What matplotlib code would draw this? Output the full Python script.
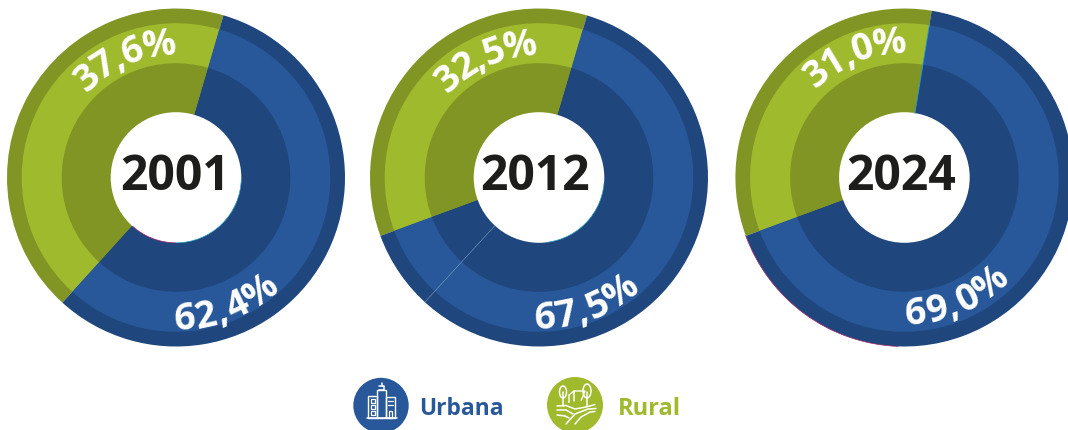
import numpy as np
import matplotlib
matplotlib.use("Agg")
import matplotlib.pyplot as plt
from matplotlib.font_manager import FontProperties
from matplotlib.patches import Arc, Circle, Rectangle, Ellipse, Polygon

W, H = 1068, 431

# data
years = ["2001", "2012", "2024"]
urban_labels = ["62,4%", "67,5%", "69,0%"]
rural_labels = ["37,6%", "32,5%", "31,0%"]
# share of the wheel as it is actually drawn (differs a little from the printed labels)
rural_drawn = [42.8, 35.2, 33.2]
urban_drawn = [57.2, 64.8, 66.8]
legend_names = ["Urbana", "Rural"]

# layout, in pixels of the picture
centers = [(176, 178.5), (539, 178.5), (904.4, 178.5)]
rural_start = [73.7, 73.5, 80.7]   # math angle of the upper split
year_x = [175, 535.5, 901]
rural_label_pos = [(23, 123.5), (24, 123.5), (22, 125.5)]    # deg ccw from top, baseline radius
urban_label_pos = [(21.5, 151.5), (20.5, 150.5), (23.5, 146.5)]    # deg ccw from bottom, baseline radius

BLUE = "#285899"
BLUE_DK = "#1f467d"
GREEN = "#9fba2d"
GREEN_DK = "#819524"
BLACK = "#1d1d1b"

plt.rcParams["font.family"] = ["Open Sans", "DejaVu Sans"]
bold = FontProperties(family="Open Sans", weight="bold", size=27)

fig = plt.figure(figsize=(W / 100, H / 100), dpi=100)
ax = fig.add_axes([0, 0, 1, 1])
renderer = fig.canvas.get_renderer()


def Y(y):
    return H - y


def arc_text(cx, cy, txt, mid_deg, r, top):
    # put the glyphs one by one along a circle, spaced at the middle of the glyph height
    ws = [renderer.get_text_width_height_descent(txt[:i], bold, False)[0] if i else 0
          for i in range(len(txt) + 1)]
    total = ws[-1]
    r_mid = r + 13 if top else r - 13
    for i, ch in enumerate(txt):
        off = ((ws[i] + ws[i + 1]) / 2 - total / 2) / r_mid
        if top:
            a = np.radians(90 + mid_deg) - off
            rot = np.degrees(a) - 90
        else:
            a = np.radians(270 + mid_deg) + off
            rot = np.degrees(a) + 90
        ax.text(cx + r * np.cos(a), cy + r * np.sin(a), ch, rotation=rot, rotation_mode="anchor",
                ha="center", va="baseline", color="white", fontproperties=bold)


for i in range(3):
    cx, cy = centers[i][0], Y(centers[i][1])
    vals = [rural_drawn[i], urban_drawn[i]]
    # full discs from the outside in, so no seams show between the rings
    for rad, cols in [(169, [GREEN_DK, BLUE_DK]),
                      (154.3, [GREEN, BLUE]),
                      (114.3, [GREEN_DK, BLUE_DK])]:
        ax.pie(vals, center=(cx, cy), radius=rad, startangle=rural_start[i], colors=cols,
               wedgeprops=dict(linewidth=0))
    ax.add_patch(Circle((cx, cy), 65.3, color="white", lw=0))
    ax.text(year_x[i], Y(177), years[i], ha="center", va="center", color=BLACK,
            fontsize=34.6, fontweight="bold")
    arc_text(cx, cy, rural_labels[i], rural_label_pos[i][0], rural_label_pos[i][1], True)
    arc_text(cx, cy, urban_labels[i], urban_label_pos[i][0], urban_label_pos[i][1], False)

# print artefacts of the original: fine lines on some edges
a = np.radians(270 - 42.5)
ax.plot([centers[1][0] + 65 * np.cos(a), centers[1][0] + 169 * np.cos(a)],
        [Y(178.5) + 65 * np.sin(a), Y(178.5) + 169 * np.sin(a)], color="#7f9cc0", lw=0.4)
a = np.radians(rural_start[2])
ax.plot([centers[2][0] + 65 * np.cos(a), centers[2][0] + 154 * np.cos(a)],
        [Y(178.5) + 65 * np.sin(a), Y(178.5) + 154 * np.sin(a)], color="#2a9fc9", lw=0.6)
for c, r, t1, t2, col in [(0, 65.3, 228, 270, "#a8246f"), (0, 65.3, 270, 358, "#2a9fc9"),
                          (1, 65.3, 278, 355, "#2a9fc9"), (2, 169, 200, 268, "#a8246f")]:
    ax.add_patch(Arc((centers[c][0], Y(178.5)), 2 * r, 2 * r, theta1=t1, theta2=t2,
                     color=col, lw=0.5))

# legend
ax.add_patch(Circle((381, Y(406.5)), 27.7, color=BLUE, lw=0))
ax.add_patch(Circle((575, Y(406)), 28, color=GREEN, lw=0))
ax.text(419.5, Y(415), legend_names[0], color=BLUE, fontsize=16.4, fontweight="bold", va="baseline")
ax.text(617.5, Y(415), legend_names[1], color=GREEN, fontsize=17, fontweight="bold", va="baseline")


def ln(xs, ys, lw=1.1):
    ax.plot(xs, [Y(v) for v in ys], color="white", lw=lw, solid_capstyle="round")


def box(x, y, w, h, lw=1.0):
    ax.add_patch(Rectangle((x, Y(y + h)), w, h, fill=False, ec="white", lw=lw))


# buildings icon
ln([367, 397], [419, 419])
box(368, 397, 9, 22)
box(377, 391, 9, 28)
box(386, 398, 8.5, 21)
ln([379, 384, 384, 379], [391, 391, 387, 387])
ln([381.5, 381.5], [387, 384])
for wy in [400, 406, 412]:
    box(370.5, wy, 4, 3.5, 0.9)
ln([388, 392.5], [402, 402], 0.9)
ln([388, 392.5], [406, 406], 0.9)
box(388.5, 412, 3.5, 7, 0.9)

# farm icon
ax.add_patch(Ellipse((563, Y(393)), 7, 12, fill=False, ec="white", lw=1.1))
ln([563, 563], [393, 407])
ax.add_patch(Ellipse((587, Y(392)), 8, 14, fill=False, ec="white", lw=1.1))
ln([587, 587], [393, 407])
ax.add_patch(Polygon([(569, Y(404)), (569, Y(396)), (574, Y(392)), (585, Y(392)), (581, Y(402))],
                     closed=False, fill=False, ec="white", lw=1.0))
ln([574, 574], [392, 402])
ln([557, 566, 575, 586, 595], [407, 406.5, 410, 408, 405.5])
ln([557, 566, 573], [411, 411, 415])
ln([566, 575, 588, 596], [425, 415, 410, 409.5])
ln([557, 565, 569], [416, 417, 419])
ln([575, 581, 590, 595], [425, 418, 413, 412.5])

ax.set_xlim(0, W)
ax.set_ylim(0, H)
ax.set_aspect("auto")
ax.axis("off")
fig.savefig("out.png", dpi=100, facecolor="white")
